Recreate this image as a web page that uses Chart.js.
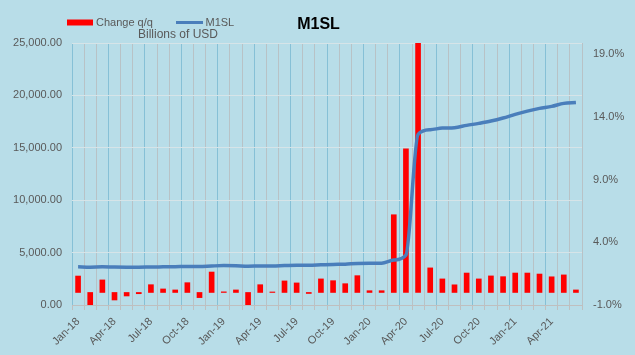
<!DOCTYPE html>
<html><head><meta charset="utf-8">
<script src="https://cdn.jsdelivr.net/npm/chart.js@4"></script>
<style>html,body{margin:0;padding:0;background:#b8dde8;}#w{width:635px;height:355px;position:relative;}</style>
</head><body><div id="w"><canvas id="c" width="635" height="355"></canvas></div>
<script>
const categories = ['Jan-18','Feb-18','Mar-18','Apr-18','May-18','Jun-18','Jul-18','Aug-18','Sep-18','Oct-18','Nov-18','Dec-18',
  'Jan-19','Feb-19','Mar-19','Apr-19','May-19','Jun-19','Jul-19','Aug-19','Sep-19','Oct-19','Nov-19','Dec-19',
  'Jan-20','Feb-20','Mar-20','Apr-20','May-20','Jun-20','Jul-20','Aug-20','Sep-20','Oct-20','Nov-20','Dec-20',
  'Jan-21','Feb-21','Mar-21','Apr-21','May-21','Jun-21'];
// % change (right axis)
const changeQQ = [1.31,-1.05,1.0,-0.6,-0.28,-0.1,0.62,0.28,0.2,0.78,-0.41,1.63,
  0.05,0.2,-1.05,0.62,0.04,0.92,0.76,-0.08,1.08,0.94,0.70,1.34,
  0.14,0.14,6.2,11.46,240.0,1.96,1.08,0.61,1.55,1.08,1.32,1.26,
  1.55,1.55,1.47,1.25,1.40,0.2];
// M1SL level, billions of USD (left axis)
const m1sl = [3640,3610,3640,3620,3610,3610,3630,3640,3650,3680,3665,3720,
  3760,3740,3700,3720,3725,3760,3790,3790,3830,3870,3900,3960,
  3975,3990,4290,4760,16290,16730,16880,16920,17140,17330,17550,17840,
  18190,18500,18760,18950,19240,19330];
const leftTicks = [0,5000,10000,15000,20000,25000];
const rightTicks = [-1,4,9,14,19];

const FONT = "'Liberation Sans', Arial, sans-serif";
const TXT = '#595959';

const bgPlugin = {
  id: 'bg',
  beforeDraw(chart) {
    const ctx = chart.ctx;
    ctx.save();
    ctx.fillStyle = '#b8dde8';
    ctx.fillRect(0, 0, chart.width, chart.height);
    ctx.restore();
  },
  afterDraw(chart) {
    const ctx = chart.ctx;
    ctx.save();
    ctx.fillStyle = '#000';
    ctx.font = 'bold 16px ' + FONT;
    ctx.textAlign = 'center';
    ctx.textBaseline = 'alphabetic';
    ctx.fillText('M1SL', 318.5, 28.5);
    ctx.fillStyle = '#ff0000';
    ctx.fillRect(67, 19.5, 26, 6);
    ctx.font = '11px ' + FONT;
    ctx.fillStyle = TXT;
    ctx.textAlign = 'left';
    ctx.fillText('Change q/q', 96, 26);
    ctx.strokeStyle = '#4a7ebb';
    ctx.lineWidth = 3;
    ctx.beginPath(); ctx.moveTo(176, 22.5); ctx.lineTo(203, 22.5); ctx.stroke();
    ctx.fillText('M1SL', 205.5, 26);
    ctx.font = '12px ' + FONT;
    ctx.fillText('Billions of USD', 138, 37.5);
    ctx.restore();
  }
};

new Chart(document.getElementById('c'), {
  data: {
    labels: categories,
    datasets: [
      {
        type: 'line', label: 'M1SL', data: m1sl, yAxisID: 'y', order: 0,
        borderColor: '#4a7ebb', borderWidth: 3.5, pointRadius: 0,
        cubicInterpolationMode: 'monotone', fill: false
      },
      {
        type: 'bar', label: 'Change q/q', data: changeQQ, yAxisID: 'y1', order: 1,
        backgroundColor: '#ff0000', barThickness: 5
      }
    ]
  },
  options: {
    responsive: false,
    animation: false,
    devicePixelRatio: 1,
    layout: { padding: { top: 43, left: 0, right: 0, bottom: 0 } },
    plugins: { legend: { display: false }, title: { display: false }, tooltip: { enabled: false } },
    scales: {
      x: {
        type: 'category',
        offset: true,
        grid: {
          offset: true,
          drawOnChartArea: true,
          color: (c) => (c.index % 3 === 0 ? '#86c0d6' : '#b8c2c6'),
          tickColor: '#bfbfbf',
          tickLength: 5,
          lineWidth: 1
        },
        border: { display: true, color: '#bfbfbf' },
        ticks: {
          autoSkip: false, maxRotation: 45, minRotation: 45, padding: 5,
          color: TXT, font: { family: FONT, size: 11 },
          callback: function (v, i) { return i % 3 === 0 ? categories[i] : ''; }
        },
        afterFit: (s) => { s.height = 50; }
      },
      y: {
        position: 'left', min: 0, max: 25000,
        afterBuildTicks: (s) => { s.ticks = leftTicks.map(v => ({ value: v })); },
        grid: { color: '#d6e4e8', drawTicks: false, lineWidth: 1 },
        border: { display: false },
        ticks: {
          padding: 10, color: TXT, font: { family: FONT, size: 11 },
          callback: (v) => Number(v).toLocaleString('en-US', { minimumFractionDigits: 2, maximumFractionDigits: 2 })
        },
        afterFit: (s) => { s.width = 72; }
      },
      y1: {
        position: 'right', min: -1, max: 19.9,
        afterBuildTicks: (s) => { s.ticks = rightTicks.map(v => ({ value: v })); },
        grid: { drawOnChartArea: false, drawTicks: false },
        border: { display: false },
        ticks: {
          padding: 11, color: TXT, font: { family: FONT, size: 11 },
          callback: (v) => Number(v).toFixed(1) + '%'
        },
        afterFit: (s) => { s.width = 53; }
      }
    }
  },
  plugins: [bgPlugin]
});
</script></body></html>
